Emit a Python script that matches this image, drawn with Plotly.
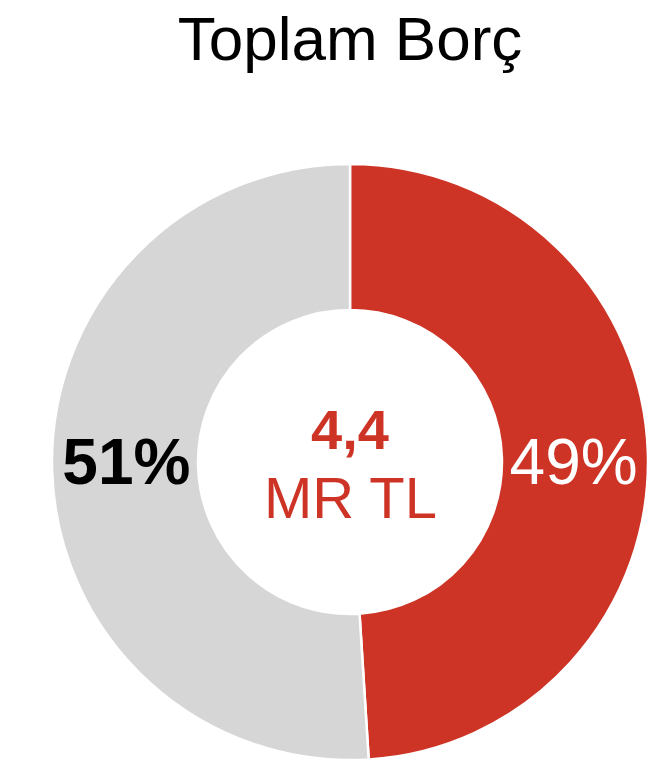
import plotly.graph_objects as go

labels = ["Kırmızı", "Gri"]
values = [49, 51]
text_labels = ["49%", "51%"]
colors = ["#CD3426", "#D6D6D6"]
title_text = "Toplam Borç"
center_value = "4,4"
center_unit = "MR TL"

FONT = "Liberation Sans, Arial, sans-serif"

fig = go.Figure(go.Pie(
    labels=labels,
    values=values,
    text=text_labels,
    textinfo="text",
    hole=0.51,
    sort=False,
    direction="clockwise",
    rotation=0,
    marker=dict(colors=colors, line=dict(color="white", width=2.5)),
    textposition="inside",
    insidetextorientation="horizontal",
    insidetextfont=dict(family=FONT, size=[64, 64], color=["white", "black"],
                        weight=["normal", "bold"]),
    hoverinfo="skip",
    showlegend=False,
))

fig.add_annotation(text=f"<b>{center_value}</b>", x=0.5, y=0.5537, xref="paper", yref="paper",
                   showarrow=False, font=dict(family=FONT, size=56, color="#CD3426"),
                   xanchor="center", yanchor="middle")
fig.add_annotation(text=center_unit, x=0.5, y=0.4396, xref="paper", yref="paper",
                   showarrow=False, font=dict(family=FONT, size=58, color="#CD3426"),
                   xanchor="center", yanchor="middle")

fig.update_layout(
    width=662, height=762,
    margin=dict(l=44, r=22, t=156, b=10),
    paper_bgcolor="white", plot_bgcolor="white",
    title=dict(text=title_text, x=0.5, xref="paper", y=1 - 30 / 762, yref="container",
               xanchor="center", yanchor="middle",
               font=dict(family=FONT, size=62, color="black")),
)

fig.write_html("out.html")
